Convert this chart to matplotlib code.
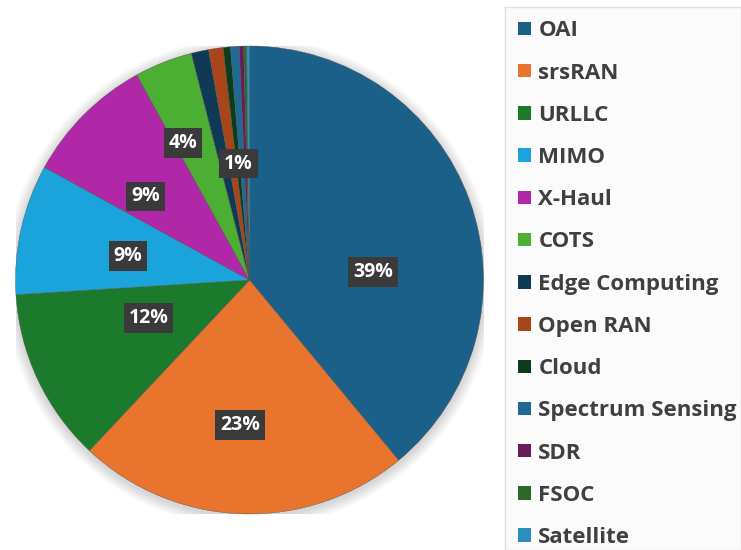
import matplotlib.pyplot as plt
import numpy as np
from matplotlib.patches import Patch

labels = ['OAI', 'srsRAN', 'URLLC', 'MIMO', 'X-Haul', 'COTS', 'Edge Computing',
          'Open RAN', 'Cloud', 'Spectrum Sensing', 'SDR', 'FSOC', 'Satellite']
values = [39, 23, 12, 9, 9, 4, 1.2, 1.0, 0.5, 0.6, 0.3, 0.2, 0.2]
pct_text = ['39%', '23%', '12%', '9%', '9%', '4%', '1%', '', '', '', '', '', '']
colors = ['#1b6089', '#e8742e', '#1b7a2b', '#1ba3dc', '#b027a8', '#4cae32', '#0f3a56',
          '#a8461a', '#0c3d1a', '#1f6a94', '#6a1a5a', '#2a6a26', '#2a8fc0']
# where the labels sit (angle in degrees, fraction of radius), best-fit style
label_ang = [3.7, -93.8, -159.5, 168.8, 141.2, 115.9, 95.5]
label_rad = [0.53, 0.62, 0.46, 0.53, 0.57, 0.65, 0.50]

W, H = 741, 550
fig = plt.figure(figsize=(W / 100, H / 100), dpi=100)
fig.patch.set_facecolor('white')

cx, cy, r = 249.5, 280, 234
ax = fig.add_axes([(cx - r) / W, (H - cy - r) / H, 2 * r / W, 2 * r / H])

# soft shadow round the pie
for k in range(8):
    c = plt.Circle((0.0, -0.01), 1.0 + 0.006 * (k + 1), color='black', alpha=0.018, lw=0)
    ax.add_patch(c)

wedges, _ = ax.pie(values, colors=colors, startangle=90, counterclock=False, radius=1,
                   wedgeprops=dict(linewidth=0.3, edgecolor='#555555'))
ax.set_xlim(-1, 1)
ax.set_ylim(-1, 1)
ax.axis('off')

for i, (t, a, rr) in enumerate(zip(pct_text, label_ang, label_rad)):
    ang = np.deg2rad(a)
    ax.text(rr * np.cos(ang), rr * np.sin(ang), t, ha='center', va='center',
            fontsize=14, fontweight='bold', color='white', family='Open Sans',
            zorder=5 + i,
            bbox=dict(boxstyle='square,pad=0.25', fc='#3a3a3a', ec='none'))

# legend
lax = fig.add_axes([505 / W, 0, 1 - 505 / W, 1 - 7 / H])
lax.set_xlim(0, 1)
lax.set_ylim(0, 1)
lax.set_xticks([])
lax.set_yticks([])
lax.set_facecolor('#fbfbfb')
for s in lax.spines.values():
    s.set_color('#e0e0e0')
    s.set_linewidth(1)

handles = [Patch(facecolor=c, edgecolor='none') for c in colors]
leg = lax.legend(handles, labels, loc='upper left', bbox_to_anchor=(0.0, 1.0),
                 frameon=False, prop=dict(family='Open Sans', weight='bold', size=16),
                 handlelength=0.55, handleheight=0.55, handletextpad=0.35,
                 labelspacing=0.955, borderaxespad=0.2)
for txt in leg.get_texts():
    txt.set_color('#404040')

fig.savefig('out.png', dpi=100)
